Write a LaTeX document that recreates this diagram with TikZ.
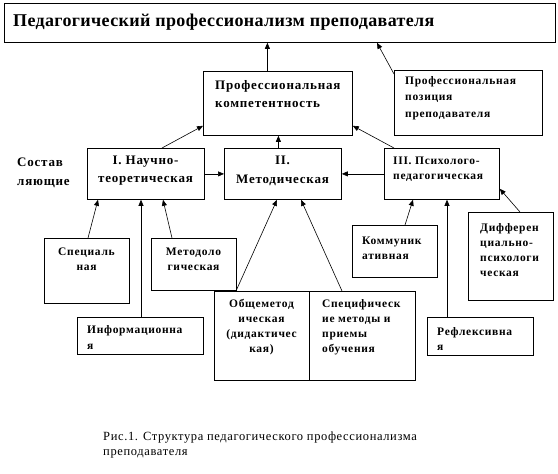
\documentclass[tikz,border=0pt]{standalone}
\usepackage{fontspec}
\setmainfont{Liberation Serif}
\usetikzlibrary{arrows.meta}

\begin{document}
\begin{tikzpicture}[x=1pt, y=-1pt,
  box/.style={draw, line width=0.8pt, anchor=north west, inner sep=0pt},
  arr/.style={-{Triangle[length=6pt,width=5pt]}, line width=0.6pt},
  ttl/.style={inner sep=0pt, font=\fontsize{18}{22}\selectfont\bfseries\addfontfeatures{LetterSpace=2}},
  big/.style={inner sep=0pt, font=\fontsize{13}{18}\selectfont\bfseries\addfontfeatures{LetterSpace=6}},
  small/.style={inner sep=0pt, font=\fontsize{11.5}{15}\selectfont\bfseries\addfontfeatures{LetterSpace=6}},
  capt/.style={inner sep=0pt, align=left, font=\fontsize{12.5}{15}\selectfont\addfontfeatures{LetterSpace=5}}]
  \useasboundingbox (0,0) rectangle (558,474);
  % top level
  \node[box, minimum width=551, minimum height=39] (top) at (4,3) {};
  \node[ttl, anchor=west] (top-t) at (13,22) {Педагогический профессионализм преподавателя};
  \node[box, minimum width=149, minimum height=64] (comp) at (203,71) {};
  \node[big, anchor=west, align=left] (comp-t) at (215,94) {Профессиональная\\компетентность};
  \node[box, minimum width=148, minimum height=65] (pos) at (394,70) {};
  \node[small, anchor=west, align=left, font=\fontsize{11.5}{16.5}\selectfont\bfseries\addfontfeatures{LetterSpace=6}] (pos-t) at (405,98) {Профессиональная\\позиция\\преподавателя};
  % components
  \node[big, anchor=west, align=left, font=\fontsize{13}{19}\selectfont\bfseries\addfontfeatures{LetterSpace=6}] (parts) at (17,172.5) {Состав\\ляющие};
  \node[box, minimum width=117, minimum height=51] (nt) at (87,148) {};
  \node[big, align=center] (nt-t) at (145.5,171) {I. Научно-\\теоретическая};
  \node[box, minimum width=117, minimum height=51] (met) at (224,148) {};
  \node[big, align=center, font=\fontsize{13}{19}\selectfont\bfseries\addfontfeatures{LetterSpace=6}] (met-t) at (282.5,170.5) {II.\\Методическая};
  \node[box, minimum width=115, minimum height=51] (pp) at (384,148) {};
  \node[small, anchor=west, align=left] (pp-t) at (393,169.5) {III. Психолого-\\педагогическая};
  % lower boxes
  \node[box, minimum width=85, minimum height=65] (spec) at (44,238) {};
  \node[small, align=center] (spec-t) at (86.5,259.5) {Специаль\\ная};
  \node[box, minimum width=126, minimum height=37] (info) at (77,317) {};
  \node[small, anchor=west, align=left, font=\fontsize{11.5}{16}\selectfont\bfseries\addfontfeatures{LetterSpace=6}] (info-t) at (87,338) {Информационна\\я};
  \node[box, minimum width=85, minimum height=52] (meth) at (151,238) {};
  \node[small, align=center] (meth-t) at (193.5,259.5) {Методоло\\гическая};
  \node[box, minimum width=95, minimum height=89] (gen) at (214,291) {};
  \node[small, align=center] (gen-t) at (261.5,327.5) {Общеметод\\ическая\\(дидактичес\\кая)};
  \node[box, minimum width=106, minimum height=89] (spm) at (309,291) {};
  \node[small, anchor=west, align=left] (spm-t) at (322,327.5) {Специфическ\\ие методы и\\приемы\\обучения};
  \node[box, minimum width=85, minimum height=52] (comm) at (352,225) {};
  \node[small, anchor=west, align=left] (comm-t) at (362,248.5) {Коммуник\\ативная};
  \node[box, minimum width=106, minimum height=38] (refl) at (427,317) {};
  \node[small, anchor=west, align=left] (refl-t) at (437,339.5) {Рефлексивна\\я};
  \node[box, minimum width=85, minimum height=88] (diff) at (468,212) {};
  \node[small, anchor=west, align=left] (diff-t) at (480,250) {Дифферен\\циально-\\психологи\\ческая};
  % caption
  \node[capt, anchor=west] (cap) at (103,444.5) {Рис.1. Структура педагогического профессионализма\\преподавателя};
  % arrows upward
  \draw[arr] ([xshift=-10.5pt]comp.north) -- ([xshift=-10.5pt]comp.north |- top.south);
  \draw[arr] ([yshift=-4pt]pos.north west) -- ([xshift=373pt]top.south west);
  \draw[arr] ([xshift=75pt]nt.north west) -- ([yshift=10pt]comp.south west);
  \draw[arr] ([xshift=10pt]pp.north west) -- ([yshift=10pt]comp.south east);
  \draw[arr] ([xshift=-4.5pt]met.north) -- ([xshift=-4.5pt]met.north |- comp.south);
  \draw[arr] (nt.east) -- (met.west);
  \draw[arr] (pp.west) -- (met.east);
  % from the lower boxes
  \draw[arr] ([xshift=44pt]spec.north west) -- ([xshift=11pt]nt.south west);
  \draw[arr] ([xshift=64pt]info.north west) -- ([xshift=64pt]info.north west |- nt.south);
  \draw[arr] ([xshift=21pt]meth.north west) -- ([xshift=76pt]nt.south west);
  \draw[arr] ([xshift=22pt]gen.north west) -- ([xshift=53pt]met.south west);
  \draw[arr] ([xshift=33pt]spm.north west) -- ([xshift=77pt]met.south west);
  \draw[arr] ([xshift=53pt]comm.north west) -- ([xshift=29pt]pp.south west);
  \draw[arr] ([xshift=20pt]refl.north west) -- ([xshift=20pt]refl.north west |- pp.south);
  \draw[arr] ([xshift=52pt]diff.north west) -- ([yshift=11pt]pp.south east);
\end{tikzpicture}
\end{document}
